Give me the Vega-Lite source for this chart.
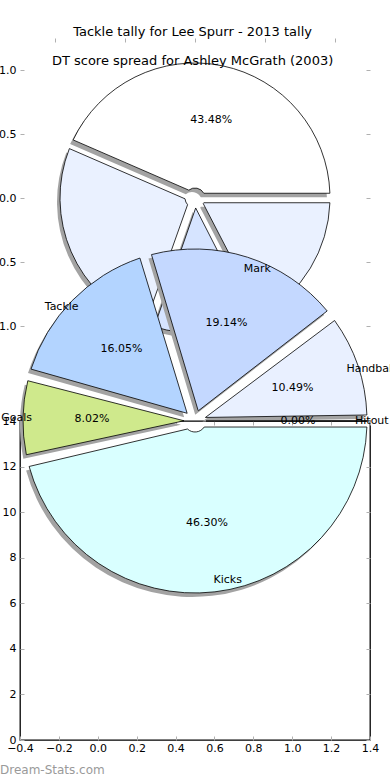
{
  "$schema": "https://vega.github.io/schema/vega-lite/v6.json",
  "autosize": "none",
  "padding": {"left": 20, "top": 38, "right": 20, "bottom": 40},
  "params": [{"name": "width", "value": 350}, {"name": "height", "value": 702}],
  "bounds": "flush",
  "spacing": 63,
  "background": "white",
  "resolve": {"scale": {"color": "independent"}},
  "title": {
    "text": "Tackle tally for Lee Spurr - 2013 tally",
    "subtitle": "DT score spread for Ashley McGrath (2003)",
    "font": "DejaVu Sans", "fontSize": 13, "fontWeight": "normal", "color": "black",
    "subtitleFont": "DejaVu Sans", "subtitleFontSize": 13, "subtitleColor": "black",
    "subtitlePadding": 16, "anchor": "middle", "offset": -30
  },
  "config": {
    "font": "DejaVu Sans",
    "view": {"stroke": null},
    "axis": {
      "labelFont": "DejaVu Sans", "labelFontSize": 11, "labelColor": "black",
      "tickColor": "#b0b0b0", "tickSize": -4, "tickWidth": 1,
      "domain": false, "grid": false, "title": null, "labelPadding": 8,
      "labelOverlap": false, "labelFlush": false
    },
    "text": {"font": "DejaVu Sans", "fontSize": 11, "color": "black"}
  },
  "datasets": {
    "dt": [
      {"name": "Handball", "share": 10.49, "pct": "10.49%", "k": 1},
      {"name": "Mark", "share": 19.14, "pct": "19.14%", "k": 2},
      {"name": "Tackle", "share": 16.05, "pct": "16.05%", "k": 3},
      {"name": "Goals", "share": 8.02, "pct": "8.02%", "k": 4},
      {"name": "Kicks", "share": 46.30, "pct": "46.30%", "k": 5},
      {"name": "Hitout", "share": 0.0, "pct": "0.00%", "k": 6}
    ],
    "tackle": [
      {"slice": "A", "share": 43.48, "pct": "43.48%", "k": 1},
      {"slice": "B", "share": 26.09, "pct": "26.09%", "k": 2},
      {"slice": "C", "share": 13.04, "pct": "13.04%", "k": 3},
      {"slice": "D", "share": 17.39, "pct": "17.39%", "k": 4}
    ]
  },
  "vconcat": [
    {
      "width": 350, "height": 320,
      "view": {"stroke": null},
      "data": {"name": "tackle"},
      "layer": [
        {
          "mark": {"type": "point", "opacity": 0},
          "encoding": {
            "x": {"datum": 0, "type": "quantitative", "scale": {"domain": [-1.25, 1.25], "nice": false, "zero": false},
                  "axis": {"orient": "top", "values": [-1, -0.5, 0, 0.5, 1], "labels": false}},
            "y": {"datum": 0, "type": "quantitative", "scale": {"domain": [-1.25, 1.25], "nice": false, "zero": false},
                  "axis": {"orient": "left", "values": [-1, -0.5, 0, 0.5, 1], "format": ".1f"}}
          }
        },
        {
          "mark": {"type": "point", "opacity": 0},
          "encoding": {
            "x": {"datum": 0, "type": "quantitative", "scale": {"domain": [-1.25, 1.25], "nice": false, "zero": false}, "axis": null},
            "y": {"datum": 0, "type": "quantitative", "scale": {"domain": [-1.25, 1.25], "nice": false, "zero": false},
                  "axis": {"orient": "right", "values": [-1, -0.5, 0, 0.5, 1], "labels": false}}
          }
        },
        {
          "encoding": {
            "x": {"datum": 0, "type": "quantitative", "scale": {"domain": [-1.25, 1.25], "nice": false, "zero": false}, "axis": null},
            "y": {"datum": 0, "type": "quantitative", "scale": {"domain": [-1.25, 1.25], "nice": false, "zero": false}, "axis": null},
            "theta": {"field": "share", "type": "quantitative", "stack": true, "scale": {"range": [1.5708, -4.7124]}},
            "order": {"field": "k"}
          },
          "layer": [
            {"mark": {"type": "arc", "radius": 135, "innerRadius": 10, "padAngle": 0.07, "fill": "#a3a3a3", "xOffset": -3, "yOffset": 4}},
            {"mark": {"type": "arc", "radius": 135, "innerRadius": 10, "padAngle": 0.07, "stroke": "black", "strokeWidth": 0.8},
             "encoding": {"color": {"field": "slice", "type": "nominal", "legend": null,
               "scale": {"domain": ["A", "B", "C", "D"], "range": ["#ffffff", "#eaf1ff", "#d6e4ff", "#eaf1ff"]}}}},
            {"mark": {"type": "text", "radius": 80},
             "encoding": {"text": {"condition": {"test": "datum.share > 40", "field": "pct"}, "value": ""}}}
          ]
        }
      ],
      "resolve": {"axis": {"x": "independent", "y": "independent"}}
    },
    {
      "width": 350, "height": 319,
      "view": {"stroke": "black", "strokeWidth": 1.3},
      "title": {"text": "Dream-Stats.com", "orient": "bottom", "anchor": "start", "frame": "group", "color": "#9a9a9a",
                "font": "DejaVu Sans", "fontSize": 12, "fontWeight": "normal", "dx": -20, "offset": 12},
      "data": {"name": "dt"},
      "layer": [
        {
          "mark": {"type": "point", "opacity": 0},
          "encoding": {
            "x": {"datum": 0.5, "type": "quantitative", "scale": {"domain": [-0.4, 1.4], "nice": false, "zero": false},
                  "axis": {"orient": "bottom", "values": [-0.4, -0.2, 0, 0.2, 0.4, 0.6, 0.8, 1.0, 1.2, 1.4], "format": ".1f", "labelPadding": 6}},
            "y": {"datum": 7, "type": "quantitative", "scale": {"domain": [0, 14], "nice": false, "zero": false},
                  "axis": {"orient": "left", "values": [0, 2, 4, 6, 8, 10, 12, 14], "format": "d"}}
          }
        },
        {
          "mark": {"type": "point", "opacity": 0},
          "encoding": {
            "x": {"datum": 0.5, "type": "quantitative", "scale": {"domain": [-0.4, 1.4], "nice": false, "zero": false},
                  "axis": {"orient": "top", "values": [-0.4, -0.2, 0, 0.2, 0.4, 0.6, 0.8, 1.0, 1.2, 1.4], "labels": false}},
            "y": {"datum": 7, "type": "quantitative", "scale": {"domain": [0, 14], "nice": false, "zero": false},
                  "axis": {"orient": "right", "values": [0, 2, 4, 6, 8, 10, 12, 14], "labels": false}}
          }
        },
        {
          "encoding": {
            "x": {"datum": 0.5, "type": "quantitative", "scale": {"domain": [-0.4, 1.4], "nice": false, "zero": false}, "axis": null},
            "y": {"datum": 14, "type": "quantitative", "scale": {"domain": [0, 14], "nice": false, "zero": false}, "axis": null},
            "theta": {"field": "share", "type": "quantitative", "stack": true, "scale": {"range": [1.5708, -4.7124]}},
            "order": {"field": "k"}
          },
          "layer": [
            {"mark": {"type": "arc", "radius": 172, "innerRadius": 11, "padAngle": 0.07, "fill": "#a3a3a3", "xOffset": -3, "yOffset": 4}},
            {"mark": {"type": "arc", "radius": 172, "innerRadius": 11, "padAngle": 0.07, "stroke": "black", "strokeWidth": 0.8},
             "encoding": {"color": {"field": "name", "type": "nominal", "legend": null,
               "scale": {"domain": ["Handball", "Mark", "Tackle", "Goals", "Kicks", "Hitout"],
                         "range": ["#e9f0ff", "#c4d8ff", "#b3d4ff", "#cfe98c", "#d9ffff", "#ffffff"]}}}},
            {"mark": {"type": "text", "radius": 103},
             "encoding": {"text": {"field": "pct"}}},
            {"mark": {"type": "text", "radius": 160, "align": "left", "baseline": "middle"},
             "encoding": {"text": {"condition": {"test": "indexof(['Handball','Mark','Kicks','Hitout'], datum.name) >= 0", "field": "name"}, "value": ""}}},
            {"mark": {"type": "text", "radius": 163, "align": "right", "baseline": "middle"},
             "encoding": {"text": {"condition": {"test": "indexof(['Tackle','Goals'], datum.name) >= 0", "field": "name"}, "value": ""}}}
          ]
        }
      ],
      "resolve": {"axis": {"x": "independent", "y": "independent"}}
    }
  ]
}
